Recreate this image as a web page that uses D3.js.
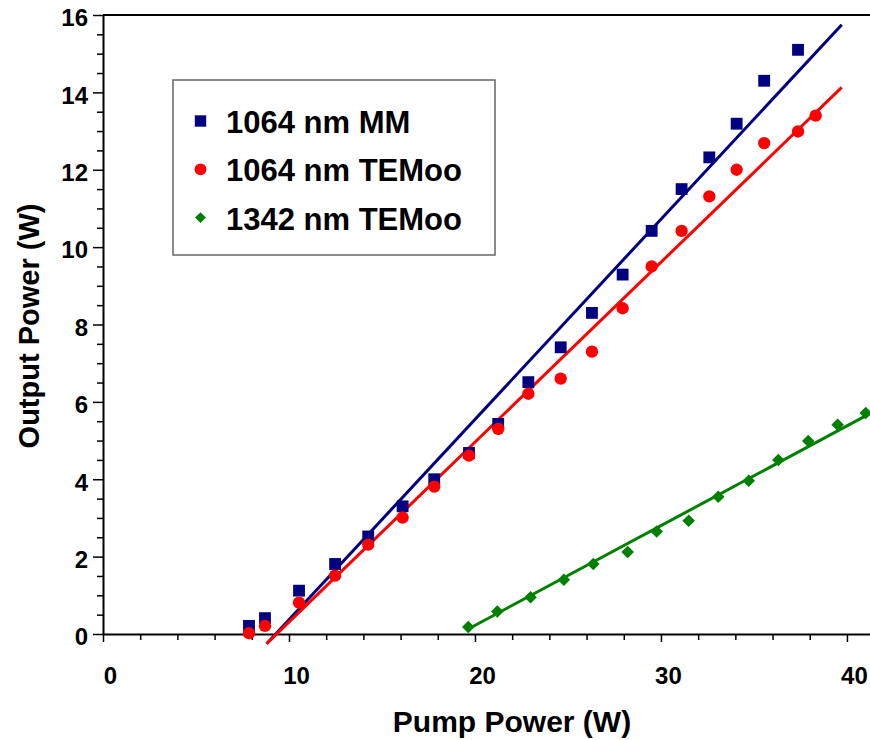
<!DOCTYPE html>
<html>
<head>
<meta charset="utf-8">
<script src="https://cdn.jsdelivr.net/npm/d3@7"></script>
<style>
  html, body { margin: 0; padding: 0; background: #fff; }
  svg { display: block; font-family: "Liberation Sans", Arial, sans-serif; font-weight: bold; }
</style>
</head>
<body>
<svg id="chart" width="870" height="740"></svg>
<script>
// Pump power (W) for each measurement
const pumpMM    = [7.85, 8.71, 10.54, 12.48, 14.26, 16.11, 17.81, 19.68, 21.25, 22.87, 24.61, 26.29, 27.94, 29.50, 31.11, 32.60, 34.07, 35.55, 37.37];
const outMM     = [0.21, 0.41, 1.12, 1.81, 2.52, 3.30, 4.00, 4.68, 5.43, 6.51, 7.41, 8.30, 9.29, 10.42, 11.50, 12.32, 13.19, 14.30, 15.10];

const pumpTEM   = [7.85, 8.71, 10.54, 12.48, 14.26, 16.11, 17.81, 19.68, 21.25, 22.87, 24.61, 26.29, 27.94, 29.50, 31.11, 32.60, 34.07, 35.55, 37.37, 38.32];
const outTEM    = [0.02, 0.21, 0.81, 1.51, 2.31, 3.01, 3.81, 4.61, 5.30, 6.21, 6.60, 7.30, 8.42, 9.50, 10.42, 11.31, 12.00, 12.69, 12.99, 13.40];

const pump1342  = [19.64, 21.20, 22.99, 24.78, 26.36, 28.21, 29.77, 31.49, 33.08, 34.72, 36.31, 37.92, 39.50, 41.01];
const out1342   = [0.18, 0.58, 0.95, 1.40, 1.81, 2.12, 2.65, 2.93, 3.55, 3.96, 4.50, 4.99, 5.41, 5.71];

// Linear fits: [pump, output] end points
const fitMM     = [[8.80, -0.25], [39.72, 15.75]];
const fitTEM    = [[8.80, -0.25], [39.72, 14.13]];
const fit1342   = [[19.64, 0.13], [41.40, 5.74]];

const seriesNames = ["1064 nm MM", "1064 nm TEMoo", "1342 nm TEMoo"];
const xMajorTicks = [0, 10, 20, 30, 40];
const yMajorTicks = [0, 2, 4, 6, 8, 10, 12, 14, 16];

const plot = { left: 103, right: 870, top: 15, bottom: 634 };
const navy = "#000080", red = "#ff0000", green = "#008000";

const svg = d3.select("#chart");

const x = d3.scaleLinear().domain([0, 41.24]).range([plot.left, plot.right]);
const y = d3.scaleLinear().domain([0, 16]).range([plot.bottom, plot.top]);

const xMinor = d3.range(0, 42, 2).filter(v => !xMajorTicks.includes(v));
const yMinor = d3.range(0, 16.01, 0.5).filter(v => !yMajorTicks.includes(v));

// top frame line
svg.append("line")
  .attr("x1", plot.left).attr("x2", plot.right)
  .attr("y1", plot.top).attr("y2", plot.top)
  .attr("stroke", "#000").attr("stroke-width", 2);

// x axis: minor then major ticks
const gx = svg.append("g").attr("transform", `translate(0,${plot.bottom})`);
gx.append("g").call(d3.axisBottom(x).tickValues(xMinor).tickSize(6).tickFormat(""))
  .call(g => g.select(".domain").remove());
gx.append("g").call(d3.axisBottom(x).tickValues(xMajorTicks).tickSize(8).tickSizeOuter(0).tickFormat(d3.format("d")))
  .call(g => g.select(".domain").attr("stroke-width", 2))
  .call(g => g.selectAll("text")
    .attr("font-size", 24).attr("font-weight", "bold").attr("fill", "#000")
    .attr("font-family", "Liberation Sans, Arial, sans-serif")
    .attr("dx", 7).attr("y", 50).attr("dy", 0));
gx.selectAll(".tick line").attr("stroke-width", 1.5);

// y axis: minor then major ticks
const gy = svg.append("g").attr("transform", `translate(${plot.left},0)`);
gy.append("g").call(d3.axisLeft(y).tickValues(yMinor).tickSize(6).tickFormat(""))
  .call(g => g.select(".domain").remove());
gy.append("g").call(d3.axisLeft(y).tickValues(yMajorTicks).tickSize(10).tickSizeOuter(0).tickFormat(d3.format("d")))
  .call(g => g.select(".domain").attr("stroke-width", 2))
  .call(g => g.selectAll("text")
    .attr("font-size", 24).attr("font-weight", "bold").attr("fill", "#000")
    .attr("font-family", "Liberation Sans, Arial, sans-serif")
    .attr("x", -15).attr("dy", "0.45em"));
gy.selectAll(".tick line").attr("stroke-width", 1.5);

// axis titles
svg.append("text")
  .attr("x", 512).attr("y", 732)
  .attr("text-anchor", "middle")
  .attr("font-size", 30)
  .text("Pump Power (W)");

svg.append("text")
  .attr("transform", "translate(39,326) rotate(-90)")
  .attr("text-anchor", "middle")
  .attr("font-size", 29)
  .text("Output Power (W)");

// legend box
const legend = svg.append("g");
legend.append("rect")
  .attr("x", 173).attr("y", 80).attr("width", 322).attr("height", 175)
  .attr("fill", "#fff").attr("stroke", "#666").attr("stroke-width", 1.5);

// fit lines
const line = d3.line().x(d => x(d[0])).y(d => y(d[1]));
[[fitMM, navy], [fitTEM, red], [fit1342, green]].forEach(([pts, c]) => {
  svg.append("path").attr("d", line(pts))
    .attr("fill", "none").attr("stroke", c).attr("stroke-width", 3);
});

// markers
const sq = d3.symbol().type(d3.symbolSquare).size(140);
const ci = d3.symbol().type(d3.symbolCircle).size(120);
const di = d3.symbol().type(d3.symbolDiamond2).size(100);

svg.append("g").selectAll("path").data(pumpMM.map((p, i) => [p, outMM[i]]))
  .join("path").attr("d", sq).attr("fill", navy)
  .attr("transform", d => `translate(${x(d[0])},${y(d[1])})`);

svg.append("g").selectAll("path").data(pumpTEM.map((p, i) => [p, outTEM[i]]))
  .join("path").attr("d", ci).attr("fill", red)
  .attr("transform", d => `translate(${x(d[0])},${y(d[1])})`);

svg.append("g").selectAll("path").data(pump1342.map((p, i) => [p, out1342[i]]))
  .join("path").attr("d", di).attr("fill", green)
  .attr("transform", d => `translate(${x(d[0])},${y(d[1])})`);

// legend entries
const legendSymbols = [d3.symbol().type(d3.symbolSquare).size(130), d3.symbol().type(d3.symbolCircle).size(110), d3.symbol().type(d3.symbolDiamond2).size(75)];
const legendColors = [navy, red, green];
seriesNames.forEach((name, i) => {
  const cy = 121 + i * 48.3;
  legend.append("path").attr("d", legendSymbols[i]).attr("fill", legendColors[i])
    .attr("transform", `translate(200.5,${cy})`);
  legend.append("text").attr("x", 226).attr("y", cy + 12)
    .attr("font-size", 31).text(name);
});
</script>
</body>
</html>
